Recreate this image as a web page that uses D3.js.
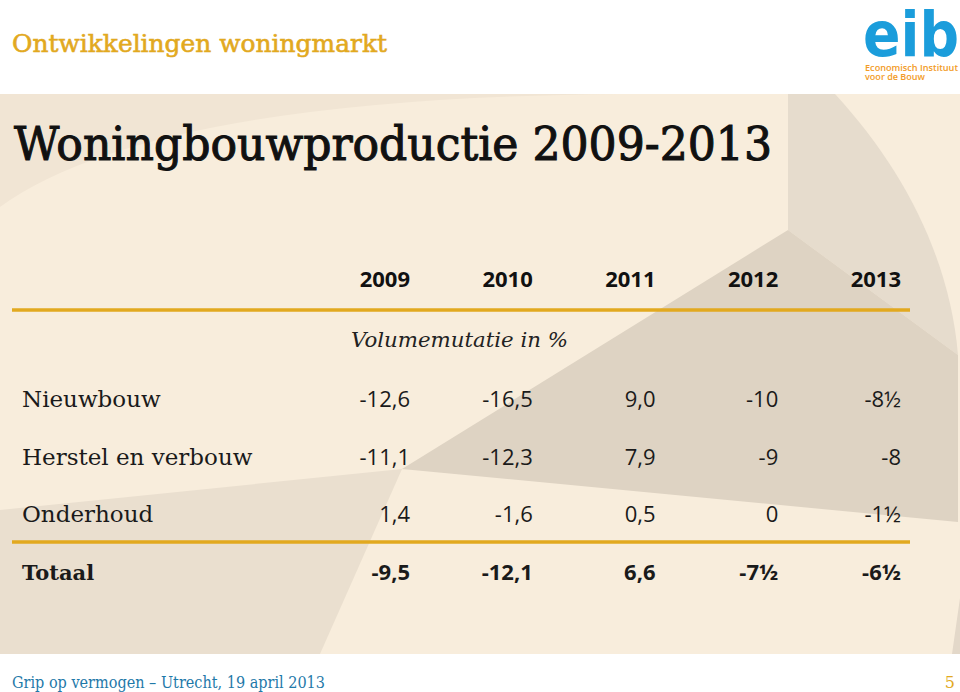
<!DOCTYPE html>
<html>
<head>
<meta charset="utf-8">
<script src="https://cdn.jsdelivr.net/npm/d3@7"></script>
<style>
  body { margin: 0; background: #fff; }
  svg { display: block; }
</style>
</head>
<body>
<div id="slide"></div>
<script>
// waarden uit de tabel (volumemutatie in %)
const years = [2009, 2010, 2011, 2012, 2013];
const rowLabels = ["Nieuwbouw", "Herstel en verbouw", "Onderhoud", "Totaal"];
const nieuwbouw = [-12.6, -16.5, 9.0, -10, -8.5];
const herstel = [-11.1, -12.3, 7.9, -9, -8];
const onderhoud = [1.4, -1.6, 0.5, 0, -1.5];
const totaal = [-9.5, -12.1, 6.6, -7.5, -6.5];
const series = [nieuwbouw, herstel, onderhoud, totaal];
const lastRealised = 2011; // daarna: ramingen in halve procenten

function drawTable() {
    const width = 960, height = 692;
    const svg = d3.select("#slide").append("svg")
        .attr("width", width)
        .attr("height", height);

    const serif = "'DejaVu Serif', serif";
    const sans = "'Open Sans', sans-serif";
    const gold = "#e2a91f";

    // achtergrondvlak met vormen
    svg.append("rect").attr("x", 0).attr("y", 94).attr("width", width).attr("height", 560)
        .attr("fill", "#f8eddc");
    const shapes = [
        {d: "M0,94 H620 Q150,98 0,207 Z", fill: "#f1e5d4"},
        {d: "M0,510 L402,469 L320,654 L0,654 Z", fill: "#eadfcf"},
        {d: "M788,94 L835,94 C905,170 950,260 958,355 L788,230 Z", fill: "#e6dccd"},
        {d: "M402,469 L788,230 L958,355 L958,522 Z", fill: "#ded3c3"},
        {d: "M952,654 L960,598 L960,654 Z", fill: "#e3d8c9"}
    ];
    svg.append("g").selectAll("path").data(shapes).join("path")
        .attr("d", d => d.d).attr("fill", d => d.fill);

    // kop
    svg.append("text")
        .attr("x", 12).attr("y", 52)
        .attr("textLength", 375).attr("lengthAdjust", "spacingAndGlyphs")
        .style("font-family", serif).style("font-size", "24px")
        .style("fill", gold).style("stroke", gold).style("stroke-width", 0.6)
        .text("Ontwikkelingen woningmarkt");

    // logo
    const logo = svg.append("g");
    logo.append("text")
        .attr("transform", "translate(863,56) scale(1,1.12)")
        .attr("textLength", 96).attr("lengthAdjust", "spacingAndGlyphs")
        .style("font-family", "'DejaVu Sans', sans-serif").style("font-weight", "bold")
        .style("font-size", "55px").style("fill", "#1b9ddb")
        .text("eib");
    logo.append("text")
        .attr("x", 865).attr("y", 71)
        .attr("textLength", 93).attr("lengthAdjust", "spacingAndGlyphs")
        .style("font-family", sans).style("font-weight", "600")
        .style("font-size", "9px").style("fill", "#f29b26")
        .text("Economisch Instituut");
    logo.append("text")
        .attr("x", 865).attr("y", 80)
        .attr("textLength", 60).attr("lengthAdjust", "spacingAndGlyphs")
        .style("font-family", sans).style("font-weight", "600")
        .style("font-size", "9px").style("fill", "#f29b26")
        .text("voor de Bouw");

    // titel
    svg.append("text")
        .attr("x", 14).attr("y", 160)
        .attr("textLength", 758).attr("lengthAdjust", "spacingAndGlyphs")
        .style("font-family", serif).style("font-size", "47px")
        .style("fill", "#111").style("stroke", "#111").style("stroke-width", 1.1)
        .text("Woningbouwproductie 2009-2013");

    // schalen
    const x = d3.scalePoint().domain(years).range([410, 901]);
    const y = d3.scalePoint().domain(rowLabels).range([407, 580]);

    const nl = d3.formatLocale({decimal: ",", thousands: ".", grouping: [3], currency: ["€", ""], minus: "-"});
    const fmt1 = nl.format(".1f");
    const fmtValue = (v, year) => {
        if (year <= lastRealised) return fmt1(v);
        const a = Math.abs(v), whole = Math.floor(a), half = a - whole >= 0.5;
        return (v < 0 ? "-" : "") + whole + (half ? "½" : "");
    };

    // jaartallen
    svg.append("g").selectAll("text").data(years).join("text")
        .attr("x", d => x(d)).attr("y", 287)
        .attr("text-anchor", "end")
        .style("font-family", sans).style("font-weight", "bold").style("font-size", "22px")
        .style("fill", "#111")
        .text(d => d);

    // gele lijnen
    svg.append("g").selectAll("line").data([310, 542]).join("line")
        .attr("x1", 12).attr("x2", 910).attr("y1", d => d).attr("y2", d => d)
        .attr("stroke", gold).attr("stroke-width", 3.5);

    svg.append("text")
        .attr("x", 351).attr("y", 347)
        .style("font-family", serif).style("font-style", "italic").style("font-size", "21.3px")
        .style("fill", "#222")
        .text("Volumemutatie in %");

    // rijlabels
    svg.append("g").selectAll("text").data(rowLabels).join("text")
        .attr("x", 22).attr("y", d => y(d))
        .style("font-family", serif)
        .style("font-size", d => d === "Totaal" ? "21px" : "23px")
        .style("font-weight", d => d === "Totaal" ? "bold" : "normal")
        .style("fill", "#1a1a1a")
        .text(d => d);

    // cellen
    const cells = [];
    series.forEach((vals, i) => vals.forEach((v, j) =>
        cells.push({row: rowLabels[i], year: years[j], value: v})));

    svg.append("g").selectAll("text").data(cells).join("text")
        .attr("x", d => x(d.year)).attr("y", d => y(d.row))
        .attr("text-anchor", "end")
        .style("font-family", sans).style("font-size", "22px")
        .style("font-weight", d => d.row === "Totaal" ? "bold" : "normal")
        .style("fill", "#1a1a1a")
        .text(d => fmtValue(d.value, d.year));

    // voettekst
    svg.append("text")
        .attr("x", 12).attr("y", 688)
        .attr("textLength", 313).attr("lengthAdjust", "spacingAndGlyphs")
        .style("font-family", serif).style("font-size", "16px")
        .style("fill", "#1f79a9")
        .text("Grip op vermogen – Utrecht, 19 april 2013");
    svg.append("text")
        .attr("x", 955).attr("y", 688).attr("text-anchor", "end")
        .style("font-family", serif).style("font-size", "16px")
        .style("fill", gold)
        .text("5");
}

drawTable();
</script>
</body>
</html>
